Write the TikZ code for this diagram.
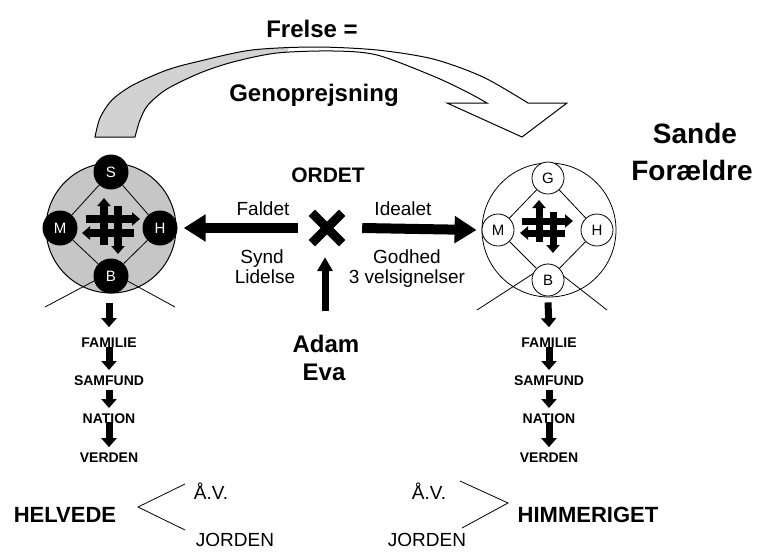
\documentclass[tikz,border=0pt]{standalone}
\usepackage{fontspec}
\setmainfont{Liberation Sans}
\usetikzlibrary{arrows.meta}
\newcommand\myfs[1]{\fontsize{#1}{#1}\selectfont}
\begin{document}
\begin{tikzpicture}[x=1pt,y=-1pt,
  txt/.style={inner sep=0pt,anchor=base},
  hugebold/.style={txt,font=\myfs{28}\bfseries},
  bigbold/.style={txt,font=\myfs{24}\bfseries},
  midbold/.style={txt,font=\myfs{22}\bfseries},
  lbl/.style={txt,font=\myfs{19}},
  chaintxt/.style={txt,font=\myfs{14}\bfseries},
  lsmall/.style={circle,fill=black,text=white,minimum size=35pt,inner sep=0pt,font=\myfs{15}},
  rsmall/.style={circle,draw,fill=white,line width=0.8pt,minimum size=32pt,inner sep=0pt,font=\myfs{15}},
  bigarrow/.style={line width=10pt,-{Triangle[length=22pt,width=26pt]}},
  uparrow/.style={line width=7pt,-{Triangle[length=14pt,width=15pt]}},
  chainarrow/.style={line width=7pt,-{Triangle[length=9pt,width=15pt]}},
  hasharrow/.style={line width=7pt,-{Triangle[length=8pt,width=13pt]}},
  thinline/.style={line width=0.8pt}
]
\useasboundingbox (0,0) rectangle (764,552);

% big curved arrow
\begin{scope}
\clip (0,0) rectangle (288,140);
\fill[gray!35] plot[smooth] coordinates {(95,137) (100,118) (112,100) (133,85) (167,70) (200,61) (252,50) (315,47) (377,50) (433,59) (483,77) (528,103)}
  -- (567,103) -- (522,137) -- (447,103)
  -- plot[smooth] coordinates {(487,103) (467,92) (433,76) (377,55) (333,51) (277,53) (233,62) (200,73) (167,89) (148,105) (140,120) (135,137)} -- cycle;
\end{scope}
\draw[line width=1pt,line join=miter] plot[smooth] coordinates {(95,137) (100,118) (112,100) (133,85) (167,70) (200,61) (252,50) (315,47) (377,50) (433,59) (483,77) (528,103)}
  -- (567,103) -- (522,137) -- (447,103)
  -- plot[smooth] coordinates {(487,103) (467,92) (433,76) (377,55) (333,51) (277,53) (233,62) (200,73) (167,89) (148,105) (140,120) (135,137)} -- cycle;

\node[bigbold] (frelse) at (312,37) {Frelse =};
\node[bigbold] (genop) at (314,101) {Genoprejsning};
\node[hugebold] (sande) at (695,143) {Sande};
\node[hugebold] (foraeldre) at (692,180) {Forældre};

% left circle
\node[circle,draw,line width=1pt,fill=gray!45,minimum size=130pt,inner sep=0pt] (LC) at (111,228) {};
\coordinate (lBL) at (45,307);
\coordinate (lBR) at (175,307);
\coordinate (lBtop) at (111,272);
\draw[thinline] (lBL) -- (lBtop) -- (lBR);
\draw[hasharrow,line width=8pt] (104,245) -- (104,198);
\draw[hasharrow,line width=8pt] (118,206) -- (118,254);
\draw[hasharrow,line width=8pt] (86,219) -- (140,219);
\draw[hasharrow,line width=8pt] (134,233) -- (82,233);
\node[lsmall] (lS) at (111,172) {S};
\node[lsmall] (lM) at (60,228) {M};
\node[lsmall] (lH) at (160,228) {H};
\node[lsmall] (lB) at (111,276) {B};
\draw[thinline] (lS) -- (lH) -- (lB) -- (lM) -- (lS);

% right circle
\node[circle,draw,line width=0.8pt,minimum size=134pt,inner sep=0pt] (RC) at (549,230) {};
\coordinate (rBL) at (477,310);
\coordinate (rBR) at (607,310);
\coordinate (rBtop) at (548,264);
\draw[thinline] (rBL) -- (rBtop) -- (rBR);
\draw[hasharrow] (539,242) -- (539,200);
\draw[hasharrow] (553,212) -- (553,253);
\draw[hasharrow] (522,221) -- (573,221);
\draw[hasharrow] (565,233) -- (520,233);
\node[rsmall] (rG) at (548,178) {G};
\node[rsmall] (rM) at (498,230) {M};
\node[rsmall] (rH) at (597,230) {H};
\node[rsmall] (rB) at (548,280) {B};
\draw[thinline] (rG) -- (rH);
\draw[thinline] (rH) -- (rB);
\draw[thinline] (rB) -- (rM);
\draw[thinline] (rM) -- (rG);

% middle
\node[txt,font=\myfs{21}\bfseries] (ordet) at (328,182) {ORDET};
\node[minimum size=30pt,inner sep=0pt] (X) at (327,228) {};
\draw[line width=9pt] (X.north west) -- (X.south east);
\draw[line width=9pt] (X.south west) -- (X.north east);
\draw[bigarrow] ([xshift=-14pt]X.west) -- ([xshift=6pt]lH.east);
\draw[bigarrow] ([xshift=20pt]X.east) -- ([xshift=-5pt]rM.west);
\node[lbl] (faldet) at (263,215) {Faldet};
\node[lbl] (idealet) at (403,215) {Idealet};
\node[lbl] (synd) at (262,263) {Synd};
\node[lbl] (lidelse) at (265,283) {Lidelse};
\node[lbl] (godhed) at (407,263) {Godhed};
\node[lbl] (velsign) at (407,283) {3 velsignelser};
\node[bigbold] (adam) at (326,352) {Adam};
\node[bigbold] (eva) at (324,380) {Eva};
\draw[uparrow] ([xshift=-1pt,yshift=23pt]adam.north) -- ([xshift=-2pt,yshift=-14pt]X.south);

% left chain
\node[chaintxt] (lfam) at (109,347) {FAMILIE};
\node[chaintxt] (lsam) at (109,385) {SAMFUND};
\node[chaintxt] (lnat) at (109,423) {NATION};
\node[chaintxt] (lver) at (109,462) {VERDEN};
\draw[chainarrow] ([xshift=-2pt,yshift=-9pt]lB.south) -- ([yshift=10pt]lfam.north);
\draw[chainarrow] (lfam.base) -- ([yshift=5pt]lsam.north);
\draw[chainarrow] ([yshift=-5pt]lsam.base) -- ([yshift=5pt]lnat.north);
\draw[chainarrow] ([yshift=1pt]lnat.base) -- ([yshift=5pt]lver.north);

% right chain
\node[chaintxt] (rfam) at (549,347) {FAMILIE};
\node[chaintxt] (rsam) at (549,385) {SAMFUND};
\node[chaintxt] (rnat) at (549,423) {NATION};
\node[chaintxt] (rver) at (549,462) {VERDEN};
\draw[chainarrow] ([yshift=-6pt]rB.south) -- ([yshift=10pt]rfam.north);
\draw[chainarrow] (rfam.base) -- ([yshift=5pt]rsam.north);
\draw[chainarrow] ([yshift=-5pt]rsam.base) -- ([yshift=5pt]rnat.north);
\draw[chainarrow] ([yshift=1pt]rnat.base) -- ([yshift=5pt]rver.north);

% bottom
\node[midbold] (helvede) at (65,522) {HELVEDE};
\coordinate (hv) at (138,507);
\coordinate (hva) at (185,484);
\coordinate (hvj) at (185,530);
\draw[thinline] (hva) -- (hv) -- (hvj);
\node[lbl] (lav) at (211,499) {Å.V.};
\node[lbl] (ljor) at (235,546) {JORDEN};

\node[midbold] (himmel) at (588,522) {HIMMERIGET};
\coordinate (hm) at (508,503);
\coordinate (hma) at (460,481);
\coordinate (hmj) at (462,528);
\draw[thinline] (hma) -- (hm) -- (hmj);
\node[lbl] (rav) at (429,499) {Å.V.};
\node[lbl] (rjor) at (427,546) {JORDEN};
\end{tikzpicture}
\end{document}
